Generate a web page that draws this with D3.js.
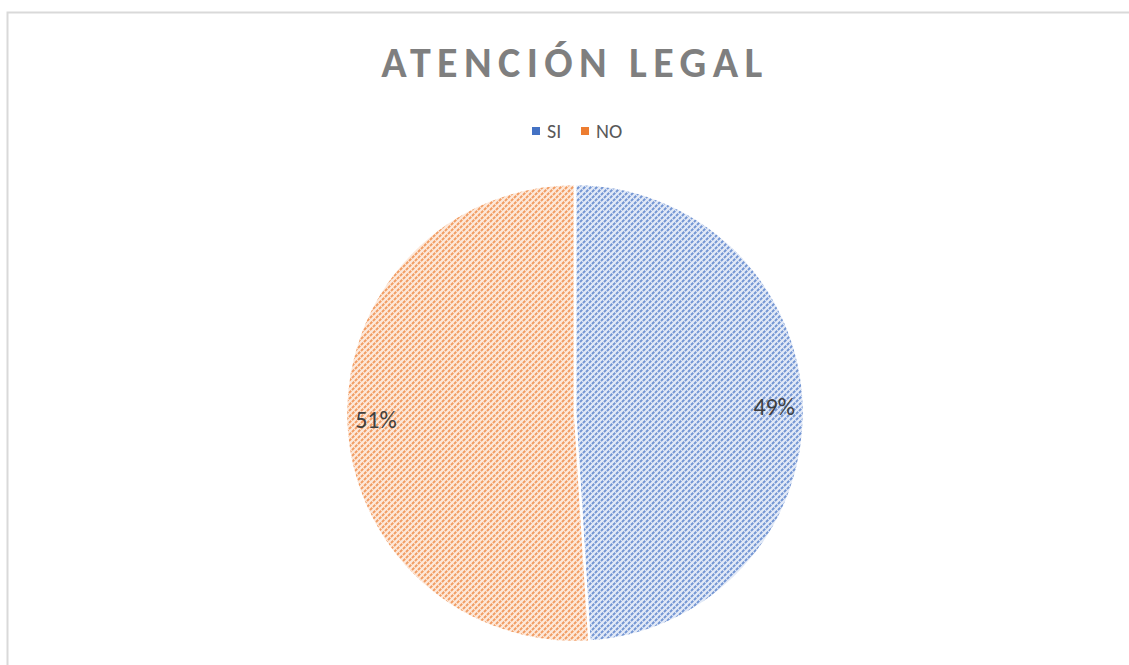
<!DOCTYPE html>
<html>
<head>
<meta charset="utf-8">
<script src="https://cdn.jsdelivr.net/npm/d3@7"></script>
<style>
  body { margin: 0; background: #fff; }
  svg { display: block; font-family: Calibri, Carlito, "Open Sans", sans-serif; }
</style>
</head>
<body>
<div id="chart"></div>
<script>
const categories = ["SI", "NO"];
const values = [49, 51];
const colors = ["#4472C4", "#ED7D31"];
const lightColors = ["#e3eaf7", "#fde9db"];

const width = 1129;
const height = 665;

const svg = d3.select("#chart").append("svg")
  .attr("width", width)
  .attr("height", height);

// chart border
svg.append("rect")
  .attr("x", 7.5).attr("y", 12.5)
  .attr("width", width).attr("height", height)
  .attr("fill", "#fff")
  .attr("stroke", "#d9d9d9")
  .attr("stroke-width", 2);

// hatch patterns (dashed upward diagonal)
const defs = svg.append("defs");
categories.forEach((c, i) => {
  const p = defs.append("pattern")
    .attr("id", "hatch" + i)
    .attr("patternUnits", "userSpaceOnUse")
    .attr("width", 6).attr("height", 6);
  p.append("rect").attr("width", 6).attr("height", 6).attr("fill", lightColors[i]);
  p.append("path")
    .attr("d", "M-1,7 L7,-1 M-1,1 L1,-1 M5,7 L7,5")
    .attr("stroke", colors[i])
    .attr("stroke-width", 2)
    .attr("stroke-dasharray", "3.2,1")
    .attr("opacity", 0.7);
});

// title
svg.append("text")
  .attr("x", 575).attr("y", 77)
  .attr("text-anchor", "middle")
  .attr("fill", "#7f7f7f")
  .style("font-size", "42px")
  .style("font-weight", "bold")
  .style("letter-spacing", "6.4px")
  .text("ATENCIÓN LEGAL");

// legend
const legendX = [532, 581];
const legend = svg.selectAll(".legend").data(categories).join("g")
  .attr("transform", (d, i) => `translate(${legendX[i]},131)`);
legend.append("rect")
  .attr("x", 0).attr("y", -4)
  .attr("width", 8).attr("height", 8)
  .attr("fill", (d, i) => colors[i]);
legend.append("text")
  .attr("x", 15).attr("y", 7)
  .attr("fill", "#595959")
  .style("font-size", "20px")
  .text(d => d);

// pie
const cx = 575, cy = 413, r = 229;
const pie = d3.pie().sort(null).value(d => d.value);
const arcs = pie(categories.map((c, i) => ({ name: c, value: values[i], i })));
const arc = d3.arc().innerRadius(0).outerRadius(r);

const g = svg.append("g").attr("transform", `translate(${cx},${cy})`);
g.selectAll("path").data(arcs).join("path")
  .attr("d", arc)
  .attr("fill", d => `url(#hatch${d.data.i})`)
  .attr("stroke", "#fff")
  .attr("stroke-width", 2.5);

// labels near outer edge
const labelArc = d3.arc().innerRadius(r * 0.87).outerRadius(r * 0.87);
g.selectAll(".lbl").data(arcs).join("text")
  .attr("x", d => labelArc.centroid(d)[0])
  .attr("y", d => labelArc.centroid(d)[1])
  .attr("text-anchor", "middle")
  .attr("dy", "0.35em")
  .attr("fill", "#404040")
  .style("font-size", "24px")
  .text(d => d.data.value + "%");
</script>
</body>
</html>
